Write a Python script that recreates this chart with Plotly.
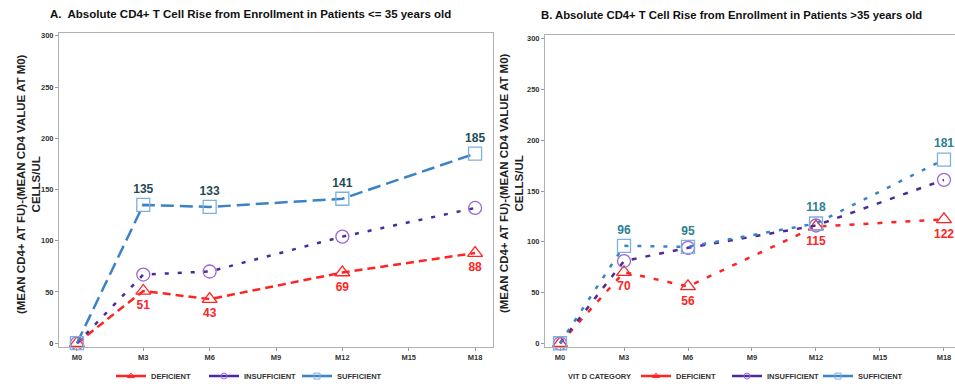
import plotly.graph_objects as go

W, H = 955, 391

# ---------------- data ----------------
months = [0, 3, 6, 12, 18]
tick_vals = [0, 3, 6, 9, 12, 15, 18]
tick_text = ["M0", "M3", "M6", "M9", "M12", "M15", "M18"]
y_ticks = [0, 50, 100, 150, 200, 250, 300]

a_deficient = [0, 51, 43, 69, 88]
a_insufficient = [0, 67, 70, 104, 132]
a_sufficient = [0, 135, 133, 141, 185]

b_deficient = [0, 70, 56, 115, 122]
b_insufficient = [0, 81, 94, 116, 161]
b_sufficient = [0, 96, 95, 118, 181]

series_names = ["DEFICIENT", "INSUFFICIENT", "SUFFICIENT"]
title_a = "A.  Absolute CD4+ T Cell Rise from Enrollment in Patients <= 35 years old"
title_b = "B. Absolute CD4+ T Cell Rise from Enrollment in Patients >35 years old"
y_title = "(MEAN CD4+ AT FU)-(MEAN CD4 VALUE AT M0)<br>CELLS/UL"
legend_title_b = "VIT D CATEGORY"

# ---------------- styles ----------------
RED = "#ff2424"
PURPLE_LINE = "#4a2a9c"
PURPLE_MARK = "#9a68d0"
BLUE_LINE = "#3b82c6"
BLUE_MARK = "#7cb0e0"
TEAL_A = "#1d4a57"
TEAL_B = "#2b8190"
FONT = "Liberation Sans"


def px(x):
    return x / W


def py(y):
    return 1 - y / H


def labels(vals):
    return [""] + [str(v) for v in vals[1:]]


fig = go.Figure()

panels = [
    dict(x="x", y="y", legend="legend",
         data=[a_deficient, a_insufficient, a_sufficient],
         dashes=["8px,5px", "4px,9px", "13px,6px"], teal=TEAL_A),
    dict(x="x2", y="y2", legend="legend2",
         data=[b_deficient, b_insufficient, b_sufficient],
         dashes=["5px,9px", "5px,9px", "4px,9px"], teal=TEAL_B),
]

for p in panels:
    d, ins, suf = p["data"]
    fig.add_trace(go.Scatter(
        x=months, y=d, xaxis=p["x"], yaxis=p["y"], mode="lines+markers+text",
        line=dict(color=RED, width=2.5, dash=p["dashes"][0]),
        marker=dict(symbol="triangle-up-open", size=13, color=RED, line=dict(width=1.3)),
        text=labels(d), textposition="bottom center",
        textfont=dict(family=FONT, size=12, color=RED, weight="bold"),
        showlegend=False, cliponaxis=False, name=series_names[0]))
    fig.add_trace(go.Scatter(
        x=months, y=ins, xaxis=p["x"], yaxis=p["y"], mode="lines+markers",
        line=dict(color=PURPLE_LINE, width=2.5, dash=p["dashes"][1]),
        marker=dict(symbol="circle-open", size=13, color=PURPLE_MARK, line=dict(width=1.3)),
        showlegend=False, cliponaxis=False, name=series_names[1]))
    fig.add_trace(go.Scatter(
        x=months, y=suf, xaxis=p["x"], yaxis=p["y"], mode="lines+markers+text",
        line=dict(color=BLUE_LINE, width=2.5, dash=p["dashes"][2]),
        marker=dict(symbol="square-open", size=13, color=BLUE_MARK, line=dict(width=1.3)),
        text=labels(suf), textposition="top center",
        textfont=dict(family=FONT, size=12, color=p["teal"], weight="bold"),
        showlegend=False, cliponaxis=False, name=series_names[2]))
    # legend proxies (small symbols like the original)
    for name, col, mcol, sym in [
        (series_names[0], RED, RED, "triangle-up-open"),
        (series_names[1], PURPLE_LINE, PURPLE_MARK, "circle-open"),
        (series_names[2], BLUE_LINE, BLUE_MARK, "square-open"),
    ]:
        fig.add_trace(go.Scatter(
            x=[None], y=[None], xaxis=p["x"], yaxis=p["y"], mode="lines+markers",
            line=dict(color=col, width=2.5), marker=dict(symbol=sym, size=6, color=mcol),
            name=name, legend=p["legend"], showlegend=True))

axis_common = dict(showline=True, linecolor="#b0b0b0", linewidth=1, ticks="outside",
                   ticklen=3, tickcolor="#999999", showgrid=False, zeroline=False,
                   tickfont=dict(family=FONT, size=7.5, color="#333333", weight="bold"))
leg_font = dict(family=FONT, size=7.5, color="#333333", weight="bold")

fig.update_layout(
    width=W, height=H, margin=dict(l=0, r=0, t=0, b=0),
    paper_bgcolor="white", plot_bgcolor="white",
    xaxis=dict(domain=[px(59), px(493)], range=[-0.81, 18.81], tickvals=tick_vals,
               ticktext=tick_text, mirror=True, anchor="y", **axis_common),
    yaxis=dict(domain=[py(349), py(33)], range=[-3.9, 302.9], tickvals=y_ticks,
               mirror=True, anchor="x", **axis_common),
    xaxis2=dict(domain=[px(545), 1.0], range=[-0.703, 18.516], tickvals=tick_vals,
                ticktext=tick_text, mirror=True, anchor="y2", ticklabeloverflow="allow",
                **axis_common),
    yaxis2=dict(domain=[py(349), py(35)], range=[-3.9, 303.9], tickvals=y_ticks,
                mirror=False, anchor="x2", **axis_common),
    legend=dict(orientation="h", x=px(111), xanchor="left", y=py(378), yanchor="middle",
                font=leg_font, bgcolor="rgba(0,0,0,0)", itemwidth=30,
                entrywidth=48, traceorder="normal"),
    legend2=dict(orientation="h", x=px(636), xanchor="left", y=py(378), yanchor="middle",
                 font=leg_font, bgcolor="rgba(0,0,0,0)", itemwidth=30,
                 entrywidth=46, traceorder="normal"),
    annotations=[
        dict(text=title_a, x=px(48), y=py(14), xref="paper", yref="paper",
             xanchor="left", yanchor="middle", showarrow=False,
             font=dict(family=FONT, size=11.5, color="#111111", weight="bold")),
        dict(text=title_b, x=px(539), y=py(15), xref="paper", yref="paper",
             xanchor="left", yanchor="middle", showarrow=False,
             font=dict(family=FONT, size=11.3, color="#111111", weight="bold")),
        dict(text=y_title, x=px(28), y=py(185), xref="paper", yref="paper",
             xanchor="center", yanchor="middle", showarrow=False, textangle=-90,
             font=dict(family=FONT, size=11.5, color="#222222", weight="bold")),
        dict(text=y_title, x=px(511), y=py(184), xref="paper", yref="paper",
             xanchor="center", yanchor="middle", showarrow=False, textangle=-90,
             font=dict(family=FONT, size=11.5, color="#222222", weight="bold")),
        dict(text=legend_title_b, x=px(566), y=py(378), xref="paper", yref="paper",
             xanchor="left", yanchor="middle", showarrow=False, font=leg_font),
    ],
)

fig.write_html("out.html", config={"displayModeBar": False},
               post_script="document.body.style.margin='0';")
